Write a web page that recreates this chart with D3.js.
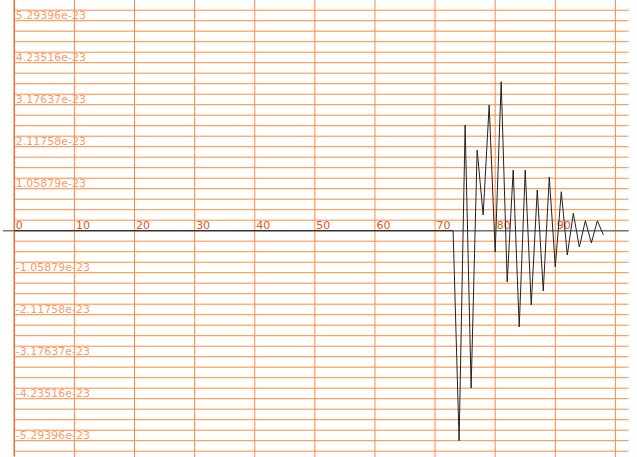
<!DOCTYPE html>
<html>
<head>
<meta charset="utf-8">
<script src="https://cdn.jsdelivr.net/npm/d3@7"></script>
<style>
  body { margin: 0; background: #fff; }
  svg { display: block; }
  text { font-family: "DejaVu Sans", sans-serif; font-size: 11px; }
</style>
</head>
<body>
<svg id="chart" width="637" height="457"></svg>
<script>
// signal samples, one per x step (x = index)
var samples = [
  0, 0, 0, 0, 0, 0, 0, 0, 0, 0,
  0, 0, 0, 0, 0, 0, 0, 0, 0, 0,
  0, 0, 0, 0, 0, 0, 0, 0, 0, 0,
  0, 0, 0, 0, 0, 0, 0, 0, 0, 0,
  0, 0, 0, 0, 0, 0, 0, 0, 0, 0,
  0, 0, 0, 0, 0, 0, 0, 0, 0, 0,
  0, 0, 0, 0, 0, 0, 0, 0, 0, 0,
  0, 0, 0, 0,
  -5.29396e-23, 2.665e-23, -3.966e-23, 2.034e-23, 0.396e-23, 3.169e-23,
  -0.537e-23, 3.756e-23, -1.293e-23, 1.530e-23, -2.428e-23, 1.530e-23,
  -1.873e-23, 1.026e-23, -1.520e-23, 1.354e-23, -0.915e-23, 0.983e-23,
  -0.613e-23, 0.439e-23, -0.411e-23, 0.252e-23, -0.310e-23, 0.252e-23,
  -0.108e-23
];
var xTicks = [0, 10, 20, 30, 40, 50, 60, 70, 80, 90];
var xGrid = [0, 10, 20, 30, 40, 50, 60, 70, 80, 90, 100];
var yTickValues = [5.29396e-23, 4.23516e-23, 3.17637e-23, 2.11758e-23, 1.05879e-23,
  -1.05879e-23, -2.11758e-23, -3.17637e-23, -4.23516e-23, -5.29396e-23];
var yTickLabels = ["5.29396e-23", "4.23516e-23", "3.17637e-23", "2.11758e-23", "1.05879e-23",
  "-1.05879e-23", "-2.11758e-23", "-3.17637e-23", "-4.23516e-23", "-5.29396e-23"];

var svg = d3.select("#chart");
var yMax = d3.max(samples, d => Math.abs(d));

var x = d3.scaleLinear().domain([0, 100]).range([14.3, 615.4]);
var y = d3.scaleLinear().domain([-yMax, yMax]).range([440.7, 20.7]);

// horizontal grid: quarter steps of the labelled step, a bit past the range
var step = yMax / 20;
var hLines = d3.range(-21, 22).map(i => i * step);

svg.append("g").selectAll("line")
    .data(hLines)
  .enter().append("line")
    .attr("x1", x(0))
    .attr("x2", x(102.2))
    .attr("y1", d => y(d))
    .attr("y2", d => y(d))
    .attr("stroke", "#ff8a3d")
    .attr("stroke-width", 1);

svg.append("g").selectAll("line")
    .data(xGrid)
  .enter().append("line")
    .attr("x1", d => x(d))
    .attr("x2", d => x(d))
    .attr("y1", 0)
    .attr("y2", 457)
    .attr("stroke", "#ff8a3d")
    .attr("stroke-width", 1);

// left axis
svg.append("line")
    .attr("x1", x(0)).attr("x2", x(0))
    .attr("y1", 0).attr("y2", 456)
    .attr("stroke", "#f06a2a")
    .attr("stroke-width", 1.3);

// zero axis
svg.append("line")
    .attr("x1", x(-1.9)).attr("x2", x(102.2))
    .attr("y1", y(0)).attr("y2", y(0))
    .attr("stroke", "#777")
    .attr("stroke-width", 1.5);

// y labels
svg.append("g").selectAll("text")
    .data(yTickValues)
  .enter().append("text")
    .attr("x", x(0) + 1.5)
    .attr("y", d => y(d) - 1.5)
    .attr("fill", "#ff9a66")
    .text((d, i) => yTickLabels[i]);

// x labels
svg.append("g").selectAll("text")
    .data(xTicks)
  .enter().append("text")
    .attr("x", d => x(d) + 1.5)
    .attr("y", y(0) - 2)
    .attr("fill", "#e0561f")
    .text(d => d);

// signal
var line = d3.line()
    .x((d, i) => x(i))
    .y(d => y(d));

svg.append("path")
    .datum(samples)
    .attr("d", line)
    .attr("fill", "none")
    .attr("stroke", "#222")
    .attr("stroke-width", 1);
</script>
</body>
</html>
